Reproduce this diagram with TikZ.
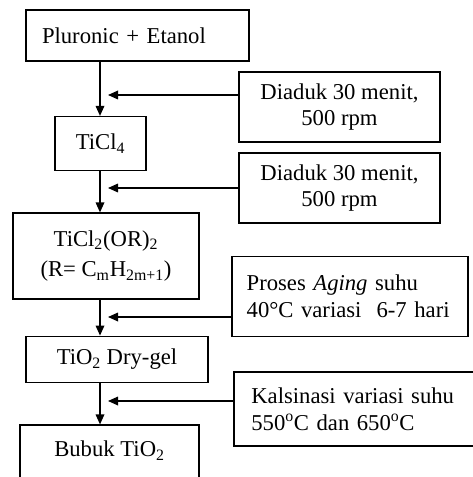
\documentclass[tikz,border=0pt]{standalone}
\usepackage{fontspec}
\setmainfont{Liberation Serif}
\usetikzlibrary{arrows.meta}

\begin{document}
\begin{tikzpicture}[x=0.75pt, y=-0.75pt, font=\fontsize{17}{20}\selectfont,
  box/.style={draw, line width=0.9pt, inner sep=0pt, align=center},
  lbox/.style={box, align=left},
  flow/.style={line width=0.9pt, -{Triangle[length=7.5pt, width=6.5pt]}}]
\clip (0,0) rectangle (473,477);
% main chain
\node (pe) [lbox, minimum height=38.25pt, inner xsep=12pt, text width=143.25pt] at (137.5,35.5) {Pluronic + Etanol};
\node (ticl) [box, minimum width=68.25pt, minimum height=40.5pt] at (100.5,143.5) {TiCl\textsubscript{4}};
\node (alk) [box, minimum width=139.5pt, minimum height=64.5pt] at (106,256) {TiCl\textsubscript{2}(OR)\textsubscript{2}\\[3pt](R= C\textsubscript{m}H\textsubscript{2m+1})};
\node (gel) [box, minimum width=136.5pt, minimum height=35pt] at (117,359.5) {TiO\textsubscript{2} Dry-gel};
\node (powder) [box, minimum width=134.25pt, minimum height=45pt, text depth=9pt] at (109.5,455) {Bubuk TiO\textsubscript{2}};
% process steps
\node (stir1) [box, minimum width=150.75pt, minimum height=52.5pt] at (339.5,107) {Diaduk 30 menit,\\500 rpm};
\node (stir2) [box, minimum width=150.75pt, minimum height=52.5pt] at (339.5,188) {Diaduk 30 menit,\\500 rpm};
\node (aging) [lbox, minimum height=60pt, inner xsep=11pt, text width=155pt] at (350,296.5) {Proses \textit{Aging} suhu\\40°C variasi\ \ 6-7 hari};
\node (calc) [lbox, minimum height=55.5pt, inner xsep=13pt, text width=158.5pt] at (357,409) {Kalsinasi variasi suhu\\550\textsuperscript{o}C dan 650\textsuperscript{o}C};
% junctions on the main line
\coordinate (j1) at (100,95);
\coordinate (j2) at (100,188);
\coordinate (j3) at (100,317);
\coordinate (j4) at (100,401);
\draw[flow] (pe.south -| j1) -- (ticl.north -| j1);
\draw[flow] (ticl.south -| j1) -- (alk.north -| j1);
\draw[flow] (alk.south -| j1) -- (gel.north -| j1);
\draw[flow] (gel.south -| j1) -- (powder.north -| j1);
\draw[flow, shorten >=6] (stir1.west |- j1) -- (j1);
\draw[flow, shorten >=6] (stir2.west |- j2) -- (j2);
\draw[flow, shorten >=6] (aging.west |- j3) -- (j3);
\draw[flow, shorten >=6] (calc.west |- j4) -- (j4);
\end{tikzpicture}
\end{document}
